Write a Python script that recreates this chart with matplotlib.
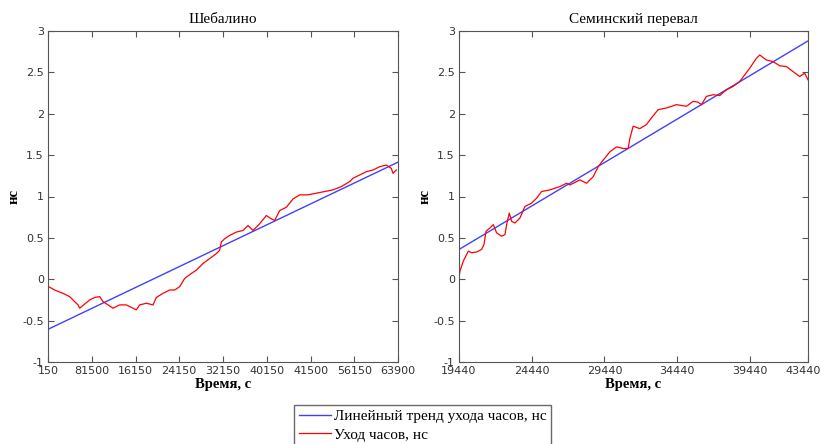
import numpy as np
import matplotlib
matplotlib.use('Agg')
import matplotlib.pyplot as plt
import matplotlib.transforms as mtransforms

# Шебалино: позиции по оси X в долях интервала между подписями (0..8)
sheb_ticks = ['150', '81500', '16150', '24150', '32150', '40150', '41500', '56150', '63900']
sheb_pos_z = [145, 165, 190, 210, 235, 240, 255, 270, 285, 300, 310, 325, 340, 360, 380, 400,
              410, 420, 440, 460, 470, 490, 510, 525, 540, 555, 575, 590, 610, 630, 650, 660,
              665, 675, 690, 710, 730, 745, 760, 780, 800, 815, 825, 840, 860, 880, 900, 925,
              950, 975, 1000, 1025, 1050, 1060, 1080, 1100, 1120, 1140, 1160, 1175, 1180, 1190]
sheb_val = [-0.085, -0.13, -0.17, -0.21, -0.31, -0.35, -0.30, -0.25, -0.22, -0.21, -0.27, -0.31,
            -0.35, -0.31, -0.31, -0.35, -0.37, -0.31, -0.29, -0.31, -0.22, -0.17, -0.13, -0.13,
            -0.09, 0.01, 0.07, 0.11, 0.19, 0.25, 0.31, 0.35, 0.45, 0.49, 0.53, 0.57, 0.59, 0.65,
            0.59, 0.67, 0.77, 0.73, 0.71, 0.83, 0.87, 0.97, 1.02, 1.02, 1.04, 1.06, 1.08, 1.12,
            1.18, 1.22, 1.26, 1.30, 1.32, 1.36, 1.38, 1.34, 1.28, 1.32]
sheb_trend = [-0.605, 1.415]

# Семинский перевал: время, с
sem_ticks = [19440, 24440, 29440, 34440, 39440, 43440]
sem_t_z = [147, 150, 160, 175, 185, 200, 215, 222, 228, 240, 250, 260, 275, 285, 290, 298, 305,
           315, 330, 345, 365, 380, 395, 420, 450, 470, 480, 510, 530, 550, 565, 580, 600, 620,
           640, 655, 660, 670, 690, 710, 725, 745, 770, 800, 830, 850, 865, 875, 890, 910, 930,
           950, 970, 990, 1005, 1020, 1040, 1050, 1070, 1090, 1110, 1130, 1150, 1170, 1185, 1195]
sem_val = [0.02, 0.10, 0.22, 0.34, 0.32, 0.33, 0.36, 0.42, 0.58, 0.62, 0.66, 0.56, 0.52, 0.54,
           0.66, 0.80, 0.70, 0.68, 0.74, 0.88, 0.92, 0.98, 1.06, 1.08, 1.12, 1.16, 1.14, 1.20,
           1.16, 1.24, 1.36, 1.44, 1.54, 1.60, 1.58, 1.58, 1.70, 1.85, 1.82, 1.87, 1.95, 2.05,
           2.07, 2.11, 2.09, 2.15, 2.14, 2.11, 2.21, 2.23, 2.22, 2.29, 2.33, 2.39, 2.47, 2.55,
           2.67, 2.71, 2.65, 2.63, 2.58, 2.57, 2.51, 2.45, 2.49, 2.41]
sem_trend = [0.36, 2.88]

sheb_x = (np.array(sheb_pos_z) - 145) / 131.25
sem_x = 19440 + (np.array(sem_t_z) - 147) * 24000 / 1048

serif = 'Liberation Serif'
fig = plt.figure(figsize=(8.22, 4.44), dpi=100)
ax1 = fig.add_axes([48 / 822, 1 - 362 / 444, 350 / 822, 331 / 444])
ax2 = fig.add_axes([459 / 822, 1 - 362 / 444, 349 / 822, 331 / 444])


def style(ax, title):
    ax.set_ylim(-1, 3)
    ax.set_yticks(np.arange(-1, 3.01, 0.5))
    ax.set_yticklabels(['-1', '-0.5', '0', '0.5', '1', '1.5', '2', '2.5', '3'])
    ax.tick_params(direction='in', top=True, right=True, labelsize=8,
                   labelcolor='#333333', color='#555555', length=4, pad=3)
    for s in ax.spines.values():
        s.set_color('#555555')
    ax.set_title(title, fontfamily=serif, fontsize=11, pad=6)
    ax.set_xlabel('Время, с', fontfamily=serif, fontweight='bold', fontsize=10.5, labelpad=1)
    ax.set_ylabel('нс', fontfamily=serif, fontweight='bold', fontsize=10.5, labelpad=1)


l1, = ax1.plot([0, 8], sheb_trend, color='#4040ff', lw=1)
l2, = ax1.plot(sheb_x, sheb_val, color='red', lw=0.9)
ax1.set_xlim(0, 8)
ax1.set_xticks(range(9))
ax1.set_xticklabels(sheb_ticks)
style(ax1, 'Шебалино')

ax2.plot([19440, 43440], sem_trend, color='#4040ff', lw=1)
ax2.plot(sem_x, sem_val, color='red', lw=0.9)
ax2.set_xlim(19440, 43440)
ax2.set_xticks(sem_ticks)
ax2.set_xticklabels([str(t) for t in sem_ticks])
style(ax2, 'Семинский перевал')

# last label sits at the figure edge, nudge it left a bit
last = ax2.get_xticklabels()[-1]
last.set_transform(last.get_transform() +
                   mtransforms.ScaledTranslation(-5 / 100, 0, fig.dpi_scale_trans))

fig.legend([l1, l2], ['Линейный тренд ухода часов, нс', 'Уход часов, нс'],
           loc='upper left', bbox_to_anchor=(294 / 822, 1 - 405 / 444),
           prop={'family': serif, 'size': 11}, frameon=True, fancybox=False,
           edgecolor='#444444', borderpad=0.3, handlelength=2.1, handletextpad=0.2,
           labelspacing=0.3, borderaxespad=0)

fig.savefig('out.png', dpi=100)
